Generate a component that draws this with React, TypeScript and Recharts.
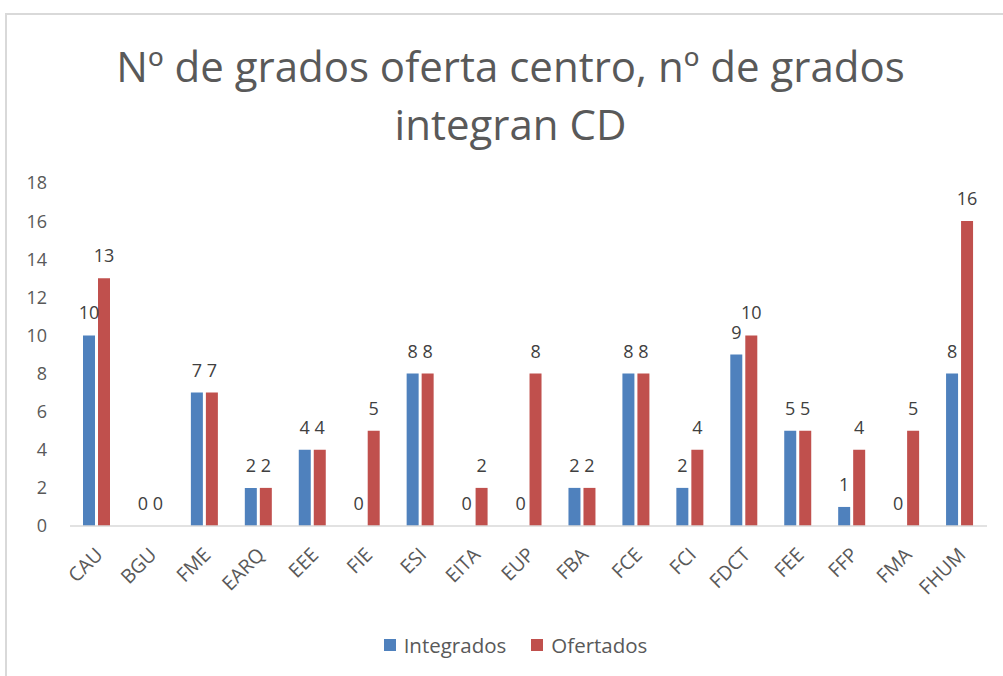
import React from "react"
import { Bar, BarChart, XAxis, YAxis, LabelList, Legend } from "recharts"

const centros = ["CAU", "BGU", "FME", "EARQ", "EEE", "FIE", "ESI", "EITA", "EUP", "FBA", "FCE", "FCI", "FDCT", "FEE", "FFP", "FMA", "FHUM"]
const integrados = [10, 0, 7, 2, 4, 0, 8, 0, 0, 2, 8, 2, 9, 5, 1, 0, 8]
const ofertados = [13, 0, 7, 2, 4, 5, 8, 2, 8, 2, 8, 4, 10, 5, 4, 5, 16]
const yTicks = [0, 2, 4, 6, 8, 10, 12, 14, 16, 18]

const data = centros.map((name, i) => ({
  name,
  Integrados: integrados[i],
  Ofertados: ofertados[i],
}))

const FONT = "'Open Sans', sans-serif"
const TEXT = "#595959"
const BLUE = "#4F81BD"
const RED = "#C0504D"

function AngledTick({ x, y, payload }: any) {
  return (
    <text
      x={x + 7}
      y={y + 22}
      transform={`rotate(-45 ${x + 7} ${y + 22})`}
      textAnchor="end"
      fill={TEXT}
      fontSize={19.5}
      fontFamily={FONT}
    >
      {payload.value}
    </text>
  )
}

function LegendBox() {
  const items = [
    { label: "Integrados", color: BLUE },
    { label: "Ofertados", color: RED },
  ]
  return (
    <div style={{ display: "flex", justifyContent: "center", fontFamily: FONT, fontSize: 20.5, color: TEXT, lineHeight: "24px" }}>
      {items.map((it) => (
        <div key={it.label} style={{ display: "flex", alignItems: "center", margin: "0 12.5px" }}>
          <span style={{ width: 12, height: 12, background: it.color, display: "inline-block", marginRight: 8 }} />
          <span>{it.label}</span>
        </div>
      ))}
    </div>
  )
}

export default function App() {
  return (
    <div style={{ position: "absolute", left: 0, top: 0, width: 1003, height: 676, background: "#fff", overflow: "hidden" }}>
      <div
        style={{
          position: "absolute",
          left: 5,
          top: 13,
          width: 1100,
          height: 800,
          borderLeft: "2px solid #d9d9d9",
          borderTop: "2px solid #d9d9d9",
        }}
      />
      <div
        style={{
          position: "absolute",
          left: 9,
          top: 37,
          width: 1003,
          textAlign: "center",
          fontFamily: FONT,
          fontSize: 42,
          lineHeight: "58px",
          color: TEXT,
        }}
      >
        Nº de grados oferta centro, nº de grados
        <br />
        integran CD
      </div>
      <div style={{ position: "absolute", left: 0, top: 0 }}>
        <BarChart
          width={1003}
          height={676}
          data={data}
          margin={{ top: 183, right: 16, left: 0, bottom: 0 }}
          barSize={12}
          barGap={3}
        >
          <XAxis
            dataKey="name"
            interval={0}
            tickLine={false}
            axisLine={{ stroke: "#d9d9d9", strokeWidth: 1.5 }}
            tick={<AngledTick />}
            height={126}
          />
          <YAxis
            domain={[0, 18]}
            ticks={yTicks}
            width={70}
            tickLine={false}
            axisLine={false}
            tickMargin={17}
            tick={{ fill: TEXT, fontSize: 18, fontFamily: FONT }}
          />
          <Legend
            content={<LegendBox />}
            wrapperStyle={{ position: "absolute", top: 633, left: 14, width: 1003 }}
          />
          <Bar dataKey="Integrados" fill={BLUE} minPointSize={0.01} isAnimationActive={false}>
            <LabelList dataKey="Integrados" position="top" offset={16} fill="#404040" fontSize={18} fontFamily={FONT} />
          </Bar>
          <Bar dataKey="Ofertados" fill={RED} minPointSize={0.01} isAnimationActive={false}>
            <LabelList dataKey="Ofertados" position="top" offset={16} fill="#404040" fontSize={18} fontFamily={FONT} />
          </Bar>
        </BarChart>
      </div>
    </div>
  )
}
